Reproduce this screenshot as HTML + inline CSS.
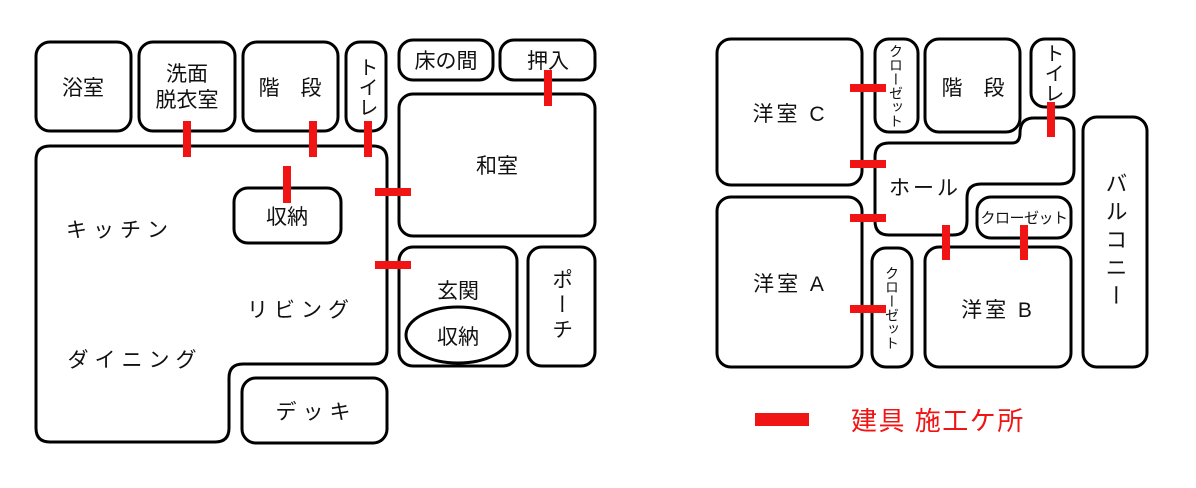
<!DOCTYPE html>
<html><head><meta charset="utf-8"><style>
html,body{margin:0;padding:0;background:#fff;}
svg{display:block;}
text{font-family:"Liberation Sans","Noto Sans CJK JP",sans-serif;fill:#111;}
</style></head><body>
<svg width="1196" height="488" viewBox="0 0 1196 488" xmlns="http://www.w3.org/2000/svg">
<g fill="none" stroke="#000" stroke-width="3">
<rect x="36" y="42" width="95" height="89" rx="14"/>
<rect x="139" y="42" width="96" height="89" rx="14"/>
<rect x="243" y="42" width="95" height="89" rx="14"/>
<rect x="346" y="42" width="40" height="89" rx="14"/>
<rect x="399" y="40" width="94" height="40" rx="14"/>
<rect x="500" y="40" width="95" height="40" rx="14"/>
<rect x="399" y="94" width="196" height="142" rx="14"/>
<path d="M50 146 H373 Q387 146 387 160 V350 Q387 364 373 364 H243 Q229 364 229 378 V428 Q229 442 215 442 H50 Q36 442 36 428 V160 Q36 146 50 146 Z"/>
<rect x="234" y="188" width="107" height="55" rx="14"/>
<rect x="399" y="247" width="118" height="119" rx="14"/>
<ellipse cx="458" cy="335" rx="52" ry="28"/>
<rect x="528" y="247" width="67" height="119" rx="14"/>
<rect x="242" y="378" width="145" height="65" rx="14"/>
<rect x="717" y="39" width="145" height="146" rx="14"/>
<rect x="875" y="39" width="43" height="93" rx="14"/>
<rect x="925" y="39" width="95" height="93" rx="14"/>
<rect x="1031" y="39" width="43" height="68" rx="14"/>
<path d="M889 143 H1012 Q1020 143 1020 133 Q1020 118 1034 118 H1060 Q1074 118 1074 132 V170 Q1074 184 1060 184 H981 Q967 184 967 198 V221 Q967 235 953 235 H889 Q875 235 875 221 V157 Q875 143 889 143 Z"/>
<rect x="977" y="197" width="94" height="41" rx="14"/>
<rect x="717" y="197" width="145" height="170" rx="14"/>
<rect x="872" y="248" width="40" height="119" rx="14"/>
<rect x="925" y="247" width="146" height="120" rx="14"/>
<rect x="1083" y="117" width="64" height="250" rx="14"/>
</g>
<g fill="#f01414">
<rect x="183" y="121" width="8" height="36"/>
<rect x="309" y="121" width="8" height="36"/>
<rect x="364" y="121" width="8" height="36"/>
<rect x="283" y="166" width="8" height="37"/>
<rect x="544" y="70" width="8" height="36"/>
<rect x="375" y="188" width="36" height="8"/>
<rect x="375" y="261" width="36" height="8"/>
<rect x="850" y="84" width="36" height="8"/>
<rect x="850" y="160" width="36" height="8"/>
<rect x="850" y="214" width="36" height="8"/>
<rect x="850" y="305" width="36" height="8"/>
<rect x="1047" y="102" width="8" height="35"/>
<rect x="942" y="225" width="8" height="35"/>
<rect x="1020" y="225" width="8" height="35"/>
<rect x="755" y="413" width="54" height="13"/>
</g>
<g text-anchor="middle" style="font-size:21px">
<text x="83" y="95">浴室</text>
<text x="187" y="81">洗面</text>
<text x="187" y="107">脱衣室</text>
<text x="290" y="95">階　段</text>
<text x="446" y="68">床の間</text>
<text x="548" y="68">押入</text>
<text x="497" y="173">和室</text>
<text x="287" y="224">収納</text>
<text x="120" y="237" style="letter-spacing:6px">キッチン</text>
<text x="301" y="317" style="letter-spacing:6px">リビング</text>
<text x="135" y="367" style="letter-spacing:6px">ダイニング</text>
<text x="458" y="298">玄関</text>
<text x="458" y="344">収納</text>
<text x="316" y="419" style="letter-spacing:6px">デッキ</text>
<text x="790" y="121" style="letter-spacing:3px">洋室 C</text>
<text x="790" y="291" style="letter-spacing:3px">洋室 A</text>
<text x="998" y="317" style="letter-spacing:3px">洋室 B</text>
<text x="973" y="95">階　段</text>
<text x="925" y="195" style="letter-spacing:3px">ホール</text>
<text x="1024" y="223" style="font-size:15px;letter-spacing:-0.5px">クローゼット</text>
</g>
<g text-anchor="middle" style="writing-mode:tb">
<text x="366" y="87" style="font-size:20px">トイレ</text>
<text x="1052" y="73" style="font-size:20px">トイレ</text>
<text x="561" y="306" style="font-size:21px;letter-spacing:4px">ポーチ</text>
<text x="896" y="86" style="font-size:14px">クローゼット</text>
<text x="892" y="308" style="font-size:14px">クローゼット</text>
<text x="1115" y="242" style="font-size:22px;letter-spacing:6px">バルコニー</text>
</g>
<text x="851" y="430" style="font-size:26px;letter-spacing:1.5px;fill:#f01414">建具 施工ケ所</text>
</svg>
</body></html>
